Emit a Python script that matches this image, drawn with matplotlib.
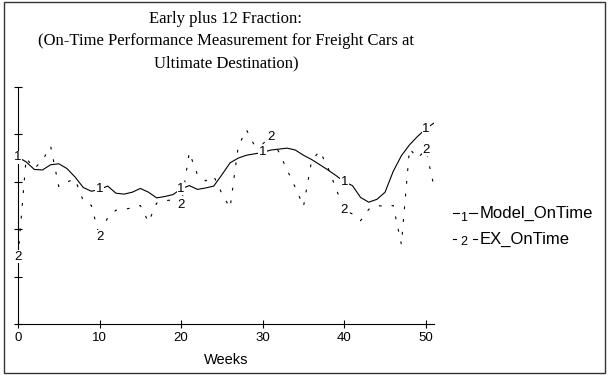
import numpy as np
import matplotlib
matplotlib.use("Agg")
import matplotlib.pyplot as plt
from matplotlib.lines import Line2D
from matplotlib.patches import Rectangle

# weekly values (y axis has no scale, 0..5 tick units)
weeks = np.arange(0, 52)

model_ontime = [3.52, 3.42, 3.26, 3.25, 3.36, 3.38, 3.28, 3.10, 2.88, 2.80,
                2.84, 2.91, 2.76, 2.74, 2.78, 2.86, 2.78, 2.66, 2.69, 2.73,
                2.85, 2.92, 2.84, 2.87, 2.91, 3.15, 3.40, 3.50, 3.56, 3.59,
                3.62, 3.67, 3.69, 3.71, 3.67, 3.56, 3.47, 3.36, 3.25, 3.13,
                3.00, 2.92, 2.67, 2.57, 2.63, 2.78, 3.22, 3.55, 3.78, 3.96,
                4.12, 4.24]

ex_ontime = [1.42, 3.50, 3.28, 3.45, 3.75, 2.90, 3.00, 3.05, 2.60, 2.50,
             1.84, 2.25, 2.40, 2.42, 2.45, 2.50, 2.15, 2.55, 2.60, 2.62,
             2.50, 3.62, 3.15, 3.02, 3.12, 2.75, 2.45, 3.75, 4.10, 3.76,
             3.80, 3.95, 3.62, 3.25, 2.88, 2.48, 3.45, 3.65, 3.30, 2.85,
             2.41, 2.32, 2.18, 2.42, 2.50, 2.48, 2.50, 1.68, 3.70, 3.50,
             3.68, 2.90]

model_label_weeks = [0, 10, 20, 30, 40, 50]
ex_label_weeks = [0, 10, 20, 31, 40, 50]

x_ticks = [0, 10, 20, 30, 40, 50]
y_ticks = [0, 1, 2, 3, 4, 5]

title_lines = "Early plus 12 Fraction:\n(On-Time Performance Measurement for Freight Cars at\nUltimate Destination)"

W, H = 608, 375
fig = plt.figure(figsize=(W / 100, H / 100), dpi=100)

ax_l, ax_r = 18 / W, 434 / W
ax_b, ax_t = 1 - 324 / H, 1 - 87 / H
ax = fig.add_axes([ax_l, ax_b, ax_r - ax_l, ax_t - ax_b])

sans = ["Liberation Sans", "DejaVu Sans"]

ax.plot(weeks, model_ontime, color="black", lw=0.8, zorder=2)
ex_line, = ax.plot(weeks, ex_ontime, color="black", lw=0.8, zorder=2)
ex_line.set_dashes([2.5, 9])

for w in model_label_weeks:
    ax.text(w, model_ontime[w], "1", ha="center", va="center", fontsize=9.5,
            family=sans, zorder=4,
            bbox=dict(facecolor="white", edgecolor="none", pad=0.4))
for w in ex_label_weeks:
    ax.text(w, ex_ontime[w], "2", ha="center", va="center", fontsize=9.5,
            family=sans, zorder=4,
            bbox=dict(facecolor="white", edgecolor="none", pad=0.4))

ax.set_xlim(0, 51)
ax.set_ylim(0, 5)
ax.set_xticks(x_ticks)
ax.set_xticklabels([str(t) for t in x_ticks], fontsize=9.5, family=sans)
ax.set_yticks(y_ticks)
ax.set_yticklabels([])
ax.tick_params(direction="inout", length=6, width=0.8, pad=3)
for s in ["top", "right"]:
    ax.spines[s].set_visible(False)
for s in ["left", "bottom"]:
    ax.spines[s].set_linewidth(0.8)
ax.set_xlabel("Weeks", fontsize=10.5, family=sans, labelpad=6)

fig.text((ax_l + ax_r) / 2, 1 - 11 / H, title_lines, ha="center", va="top",
         fontsize=12, family=["Liberation Serif", "DejaVu Serif"],
         linespacing=1.5)

# legend drawn by hand: line sample with the series number in it
leg_items = [("1", "Model_OnTime", 213, [(453, 459), (469, 477)], 218),
             ("2", "EX_OnTime", 239, [(453, 456), (473, 477)], 242)]
for num, name, yc, segs, ynum in leg_items:
    for x0, x1 in segs:
        fig.add_artist(Line2D([x0 / W, x1 / W], [1 - yc / H, 1 - yc / H],
                              color="black", lw=0.8))
    fig.text(464 / W, 1 - ynum / H, num, ha="center", va="center",
             fontsize=9, family=sans)
    fig.text(480 / W, 1 - yc / H, name, ha="left", va="center",
             fontsize=12, family=sans)

fig.add_artist(Rectangle((4 / W, 2 / H), 601 / W, 371 / H, fill=False,
                         edgecolor="#333333", lw=1.0,
                         transform=fig.transFigure))

fig.savefig("out.png", dpi=100)
